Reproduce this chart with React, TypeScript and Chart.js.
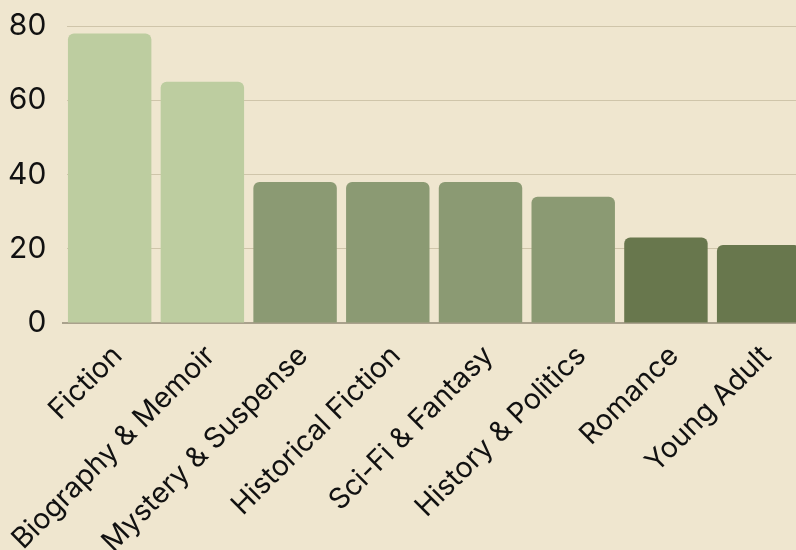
import React, { useEffect, useRef } from "react";
import { Chart, registerables } from "chart.js";

Chart.register(...registerables);

const categories = [
  "Fiction",
  "Biography & Memoir",
  "Mystery & Suspense",
  "Historical Fiction",
  "Sci-Fi & Fantasy",
  "History & Politics",
  "Romance",
  "Young Adult",
];
const counts = [78, 65, 38, 38, 38, 34, 23, 21];
const tiers = [0, 0, 1, 1, 1, 1, 2, 2];
const tierColors = ["#bdcda0", "#8b9a73", "#68774d"];
const yTicks = [0, 20, 40, 60, 80];

const BG = "#efe6cf";

export default function App() {
  const ref = useRef<HTMLCanvasElement>(null);
  useEffect(() => {
    document.body.style.background = BG;
    document.body.style.margin = "0";
    document.body.style.overflow = "hidden";
    document.documentElement.style.overflow = "hidden";
    const ctx = ref.current!;
    const chart = new Chart(ctx, {
      type: "bar",
      data: {
        labels: categories,
        datasets: [
          {
            data: counts,
            backgroundColor: tiers.map((t) => tierColors[t]),
            borderRadius: 6,
            borderSkipped: "bottom",
            barPercentage: 0.9,
            categoryPercentage: 1,
          },
        ],
      },
      options: {
        animation: false,
        responsive: false,
        maintainAspectRatio: false,
        layout: { padding: 0 },
        plugins: { legend: { display: false }, tooltip: { enabled: false } },
        scales: {
          x: {
            grid: { display: false, drawTicks: false },
            border: { display: true, color: "#a9a18c", width: 2 },
            ticks: {
              color: "#111",
              font: { family: "Inter", size: 28.5 },
              maxRotation: 45,
              minRotation: 45,
              autoSkip: false,
              padding: 16,
              labelOffset: 8,
            },
          },
          y: {
            min: 0,
            max: 80,
            afterBuildTicks: (axis: any) => {
              axis.ticks = yTicks.map((v) => ({ value: v }));
            },
            grid: {
              color: "#cfc5aa",
              drawTicks: true,
              tickLength: 17,
              tickColor: "rgba(0,0,0,0)",
              lineWidth: 1,
            },
            border: { display: true, color: "rgba(0,0,0,0)", width: 8 },
            ticks: {
              color: "#111",
              font: { family: "Inter", size: 30 },
              padding: 0,
            },
          },
        },
      },
    });
    return () => chart.destroy();
  }, []);
  return (
    <div style={{ width: 797, height: 567, padding: "8px 0 0 8px", background: BG }}>
      <canvas ref={ref} width={797} height={567} style={{ display: "block" }} />
    </div>
  );
}
